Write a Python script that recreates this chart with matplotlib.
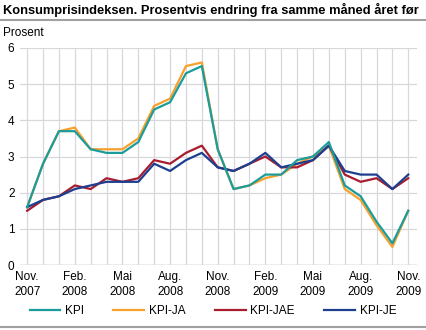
import matplotlib
matplotlib.use('Agg')
import matplotlib.pyplot as plt

plt.rcParams['font.family'] = ['Liberation Sans', 'DejaVu Sans']

# Monthly values, Nov 2007 - Nov 2009
months = list(range(25))
kpi = [1.6, 2.8, 3.7, 3.7, 3.2, 3.1, 3.1, 3.4, 4.3, 4.5, 5.3, 5.5, 3.2,
       2.1, 2.2, 2.5, 2.5, 2.9, 3.0, 3.4, 2.2, 1.9, 1.2, 0.6, 1.5]
kpi_ja = [1.6, 2.8, 3.7, 3.8, 3.2, 3.2, 3.2, 3.5, 4.4, 4.6, 5.5, 5.6, 3.2,
          2.1, 2.2, 2.4, 2.5, 2.8, 3.0, 3.3, 2.1, 1.8, 1.1, 0.5, 1.5]
kpi_jae = [1.5, 1.8, 1.9, 2.2, 2.1, 2.4, 2.3, 2.4, 2.9, 2.8, 3.1, 3.3, 2.7,
           2.6, 2.8, 3.0, 2.7, 2.7, 2.9, 3.3, 2.5, 2.3, 2.4, 2.1, 2.4]
kpi_je = [1.6, 1.8, 1.9, 2.1, 2.2, 2.3, 2.3, 2.3, 2.8, 2.6, 2.9, 3.1, 2.7,
          2.6, 2.8, 3.1, 2.7, 2.8, 2.9, 3.3, 2.6, 2.5, 2.5, 2.1, 2.5]

tick_pos = [0, 3, 6, 9, 12, 15, 18, 21, 24]
tick_labels = ['Nov.\n2007', 'Feb.\n2008', 'Mai\n2008', 'Aug.\n2008', 'Nov.\n2008',
               'Feb.\n2009', 'Mai\n2009', 'Aug.\n2009', 'Nov.\n2009']

fig = plt.figure(figsize=(4.26, 3.30), dpi=100)
ax = fig.add_axes([20/426, 1 - 265/330, 397/426, 217/330])

ax.plot(months, kpi, color='#1a9d9a', lw=1.6, label='KPI', zorder=4)
ax.plot(months, kpi_ja, color='#f7a02c', lw=1.6, label='KPI-JA', zorder=3)
ax.plot(months, kpi_jae, color='#a81c2e', lw=1.6, label='KPI-JAE', zorder=3)
ax.plot(months, kpi_je, color='#1c3f90', lw=1.6, label='KPI-JE', zorder=3)

ax.set_xlim(-0.45, 24.55)
ax.set_ylim(0, 6)
ax.set_xticks(months, minor=True)
ax.set_xticks(tick_pos)
ax.set_xticklabels(tick_labels, fontsize=8.5, linespacing=1.35)
ax.set_yticks(range(7))
ax.tick_params(axis='y', labelsize=8.5, length=0, pad=4)
ax.tick_params(axis='x', which='both', length=0, pad=4)
ax.grid(True, which='both', color='#d8d8dc', lw=0.9, zorder=0)
for s in ax.spines.values():
    s.set_visible(False)
ax.axhline(0, color='#b8b8bc', lw=1.0, zorder=1)

fig.text(3/426, 1 - 10/330, 'Konsumprisindeksen. Prosentvis endring fra samme måned året før',
         fontsize=9.3, fontweight='bold', va='center', ha='left')
fig.add_artist(plt.Line2D([0, 1], [1 - 20/330, 1 - 20/330], color='#a0a0a0', lw=1.5))
fig.text(3/426, 1 - 33/330, 'Prosent', fontsize=8.5, va='center', ha='left')
fig.add_artist(plt.Line2D([0, 1], [1 - 327/330, 1 - 327/330], color='#a0a0a0', lw=1.5))

fig.legend(loc='center', bbox_to_anchor=(0.5, 1 - 311/330), ncol=4, frameon=False,
           fontsize=8.5, handlelength=2.6, columnspacing=2.5, handletextpad=0.4)

fig.savefig('out.png', dpi=100)
